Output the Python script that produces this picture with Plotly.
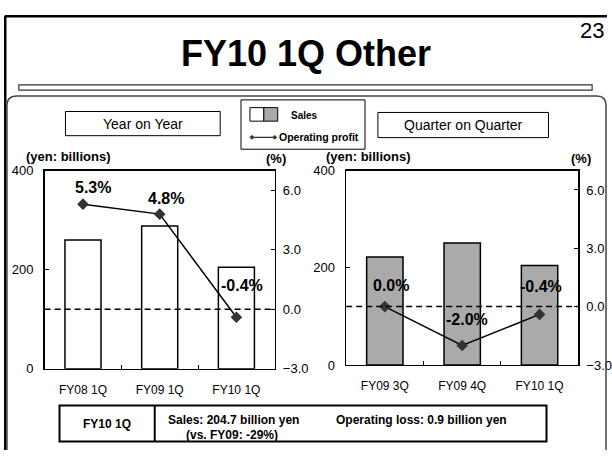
import plotly.graph_objects as go

W, H = 612, 461

# ---- data ----
yoy_categories = ["FY08 1Q", "FY09 1Q", "FY10 1Q"]
yoy_sales = [260, 288, 204.7]
yoy_margin = [5.3, 4.8, -0.4]

qoq_categories = ["FY09 3Q", "FY09 4Q", "FY10 1Q"]
qoq_sales = [222, 251, 204.7]
qoq_margin = [0.0, -2.0, -0.4]

sales_ticks = [0, 200, 400]
margin_ticks = [-3, 0, 3, 6]

title_text = "FY10 1Q Other"
page_number = "23"

FONT = "Liberation Sans, Arial, sans-serif"
NARROW = "Liberation Sans Narrow, Arial Narrow, Liberation Sans, Arial, sans-serif"


def px(x):
    return x / W


def py(y):
    return 1 - y / H


fig = go.Figure()

# ---- traces ----
fig.add_trace(go.Bar(x=yoy_categories, y=yoy_sales, xaxis="x", yaxis="y",
                     marker=dict(color="white", line=dict(color="black", width=1.5)),
                     width=0.47, showlegend=False, hoverinfo="skip"))
fig.add_trace(go.Scatter(x=yoy_categories, y=yoy_margin, xaxis="x", yaxis="y2",
                         mode="lines+markers",
                         line=dict(color="black", width=1.5),
                         marker=dict(symbol="diamond", size=9, color="#333333"),
                         showlegend=False, hoverinfo="skip"))
fig.add_trace(go.Bar(x=qoq_categories, y=qoq_sales, xaxis="x3", yaxis="y3",
                     marker=dict(color="#aaaaaa", line=dict(color="black", width=1.5)),
                     width=0.47, showlegend=False, hoverinfo="skip"))
fig.add_trace(go.Scatter(x=qoq_categories, y=qoq_margin, xaxis="x3", yaxis="y4",
                         mode="lines+markers",
                         line=dict(color="black", width=1.5),
                         marker=dict(symbol="diamond", size=9, color="#333333"),
                         showlegend=False, hoverinfo="skip"))

axis_common = dict(showline=True, linecolor="black", linewidth=1.5, showgrid=False,
                   zeroline=False, ticks="inside", ticklen=4, tickcolor="black")
xfont = dict(family=NARROW, size=12, color="black")
yfont = dict(family=NARROW, size=13, color="black")

fig.update_layout(
    width=W, height=H,
    margin=dict(l=0, r=0, t=0, b=0),
    paper_bgcolor="white", plot_bgcolor="white",
    bargap=0.5,
    xaxis=dict(domain=[px(45), px(277)], anchor="y", type="category",
               tickson="boundaries", mirror=True, tickfont=xfont,
               ticklabelstandoff=9, **axis_common),
    yaxis=dict(domain=[py(374), py(169)], anchor="x", range=[0, 400],
               tickvals=sales_ticks, tickfont=yfont, ticklabelstandoff=7, **axis_common),
    yaxis2=dict(overlaying="y", anchor="x", side="right", range=[-3, 7],
                tickvals=margin_ticks, tickformat=".1f", tickfont=yfont,
                ticklabelstandoff=4, **axis_common),
    xaxis3=dict(domain=[px(349), px(583)], anchor="y3", type="category",
                tickson="boundaries", mirror=True, tickfont=xfont,
                ticklabelstandoff=9, **axis_common),
    yaxis3=dict(domain=[py(370), py(169)], anchor="x3", range=[0, 400],
                tickvals=sales_ticks, tickfont=yfont, ticklabelstandoff=7, **axis_common),
    yaxis4=dict(overlaying="y3", anchor="x3", side="right", range=[-3, 7],
                tickvals=margin_ticks, tickformat=".1f", tickfont=yfont,
                ticklabelstandoff=4, **axis_common),
)

shapes = []
# zero dashed lines
for xr, yr in (("x domain", "y2"), ("x3 domain", "y4")):
    shapes.append(dict(type="line", xref=xr, yref=yr, x0=0, x1=1, y0=0, y1=0,
                       line=dict(color="black", width=1.5, dash="6px,4px"), layer="above"))

# page frame: top thick line and left thick line
shapes.append(dict(type="line", xref="paper", yref="paper", x0=px(5), x1=px(612),
                   y0=py(9.5), y1=py(9.5), line=dict(color="black", width=2.5)))
shapes.append(dict(type="line", xref="paper", yref="paper", x0=px(5.3), x1=px(5.3),
                   y0=py(9), y1=py(458), line=dict(color="black", width=2.5)))
# thin bar under title
shapes.append(dict(type="rect", xref="paper", yref="paper", x0=px(19), x1=px(597),
                   y0=py(80.5), y1=py(86), line=dict(color="#333333", width=1.2),
                   fillcolor="white"))
# rounded frame
path = (f"M {px(7)},{py(458)} L {px(7)},{py(102)} Q {px(7)},{py(92)} {px(17)},{py(92)} "
        f"L {px(602)},{py(92)} Q {px(611)},{py(92)} {px(611)},{py(102)} L {px(611)},{py(458)}")
shapes.append(dict(type="path", xref="paper", yref="paper", path=path,
                   line=dict(color="#444444", width=1.5)))
# caption boxes
for x0, x1, y0, y1 in ((66, 222, 108, 133), (381, 553, 109, 135)):
    shapes.append(dict(type="rect", xref="paper", yref="paper", x0=px(x0), x1=px(x1),
                       y0=py(y1), y1=py(y0), line=dict(color="black", width=1)))
# legend box
shapes.append(dict(type="rect", xref="paper", yref="paper", x0=px(243), x1=px(368),
                   y0=py(147), y1=py(96), line=dict(color="black", width=1)))
shapes.append(dict(type="rect", xref="paper", yref="paper", x0=px(252), x1=px(266),
                   y0=py(118), y1=py(104), line=dict(color="black", width=1), fillcolor="white"))
shapes.append(dict(type="rect", xref="paper", yref="paper", x0=px(266), x1=px(280),
                   y0=py(118), y1=py(104), line=dict(color="black", width=1), fillcolor="#aaaaaa"))
shapes.append(dict(type="line", xref="paper", yref="paper", x0=px(254), x1=px(277),
                   y0=py(134.7), y1=py(134.7), line=dict(color="black", width=1)))
for cx in (254, 277):
    d = 2.2
    shapes.append(dict(type="path", xref="paper", yref="paper",
                       path=(f"M {px(cx - d)},{py(134.7)} L {px(cx)},{py(134.7 - d)} "
                             f"L {px(cx + d)},{py(134.7)} L {px(cx)},{py(134.7 + d)} Z"),
                       fillcolor="#333333", line=dict(color="#333333", width=0.5)))
# summary table
shapes.append(dict(type="rect", xref="paper", yref="paper", x0=px(60), x1=px(551),
                   y0=py(449), y1=py(412), line=dict(color="black", width=2)))
shapes.append(dict(type="line", xref="paper", yref="paper", x0=px(156), x1=px(156),
                   y0=py(449), y1=py(412), line=dict(color="black", width=2)))
fig.update_layout(shapes=shapes)

ann = []


def text(x, y, t, size, bold=False, xanchor="center", family=FONT):
    ann.append(dict(xref="paper", yref="paper", x=px(x), y=py(y), text=t,
                    showarrow=False, xanchor=xanchor, yanchor="middle",
                    font=dict(family=family, size=size, color="black",
                              weight="bold" if bold else "normal")))


text(309, 48.5, title_text, 36, bold=True)
text(597, 24, page_number, 22)
text(144, 121, "Year on Year", 14)
text(467, 122, "Quarter on Quarter", 14)
text(307, 112.5, "Sales", 10, bold=True)
text(279, 134.7, "Operating profit", 10.5, bold=True, xanchor="left")
text(69, 155, "(yen: billions)", 13, bold=True)
text(278, 157, "(%)", 13, bold=True)
text(372, 155, "(yen: billions)", 13, bold=True)
text(586, 157, "(%)", 13, bold=True)
text(108, 431, "FY10 1Q", 12, bold=True)
text(235, 426.5, "Sales: 204.7 billion yen", 12, bold=True)
text(234, 442, "(vs. FY09: -29%)", 12, bold=True)
text(425, 426.5, "Operating loss: 0.9 billion yen", 12, bold=True)

# data labels on the margin lines
yoy_offsets = [(10, 17), (6.5, 16), (6, 32)]
qoq_offsets = [(6, 21), (5, 26), (1.5, 28)]
for cats, vals, offs, xr, yr in ((yoy_categories, yoy_margin, yoy_offsets, "x", "y2"),
                                 (qoq_categories, qoq_margin, qoq_offsets, "x3", "y4")):
    for c, v, (dx, dy) in zip(cats, vals, offs):
        ann.append(dict(xref=xr, yref=yr, x=c, y=v, text=f"{v:.1f}%", showarrow=False,
                        xshift=dx, yshift=dy,
                        font=dict(family=FONT, size=16, color="black", weight="bold")))

fig.update_layout(annotations=ann)

fig.write_html(
    "out.html",
    config={"displayModeBar": False, "staticPlot": True},
    post_script=("document.documentElement.style.margin='0';"
                 "document.body.style.margin='0';"
                 "document.body.style.padding='0';"
                 "document.body.style.overflow='hidden';"),
)
